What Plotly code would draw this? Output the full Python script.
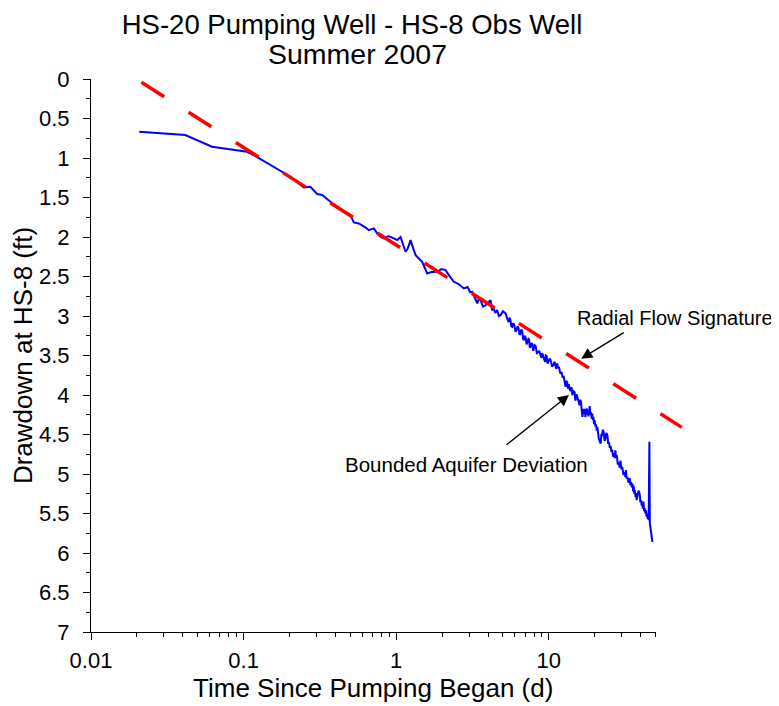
import math
import plotly.graph_objects as go

# observed drawdown at HS-8: (time since pumping began in days, drawdown in ft)
early_readings = [
    (0.0207, 0.667), (0.0415, 0.709), (0.0621, 0.857), (0.1054, 0.921), (0.1195, 0.975),
    (0.166, 1.131), (0.2028, 1.237), (0.2478, 1.372), (0.274, 1.364), (0.3034, 1.456),
    (0.327, 1.469), (0.3707, 1.554), (0.4531, 1.680), (0.501, 1.722), (0.527, 1.815),
    (0.569, 1.828), (0.598, 1.849), (0.638, 1.887), (0.661, 1.913), (0.713, 1.891),
    (0.750, 1.954), (0.788, 1.997), (0.829, 2.017), (0.891, 1.988), (0.964, 2.017),
    (1.016, 2.039), (1.067, 2.001), (1.151, 2.187), (1.186, 2.153), (1.242, 2.039),
    (1.304, 2.166), (1.34, 2.229), (1.479, 2.314), (1.596, 2.461), (1.703, 2.444),
    (1.857, 2.440), (1.982, 2.406), (2.104, 2.419), (2.237, 2.495), (2.387, 2.567),
    (2.563, 2.596), (2.775, 2.651),
]
late_readings = [
    (2.937, 2.634), (3.05, 2.70), (3.15, 2.694), (3.27, 2.78), (3.396, 2.841),
    (3.48, 2.78), (3.573, 2.799), (3.7, 2.88), (3.854, 2.862), (4.0, 2.83),
    (4.152, 2.799), (4.25, 2.93), (4.345, 2.900), (4.46, 2.96), (4.592, 2.925),
    (4.7, 3.00), (4.83, 2.989), (5.0, 2.94), (5.21, 2.967), (5.33, 3.03),
    (5.45, 3.078), (5.53, 3.02), (5.6, 3.05), (5.68, 3.13), (5.76, 3.137),
    (5.85, 3.09), (5.95, 3.12), (6.05, 3.20), (6.15, 3.179), (6.24, 3.13),
    (6.33, 3.15), (6.43, 3.24), (6.53, 3.221), (6.6, 3.17), (6.7, 3.2),
    (6.78, 3.29), (6.87, 3.306), (6.95, 3.25), (7.05, 3.27), (7.15, 3.36),
    (7.26, 3.331), (7.35, 3.29), (7.43, 3.30), (7.5, 3.40), (7.60, 3.390),
    (7.7, 3.34), (7.8, 3.36), (7.9, 3.44), (7.98, 3.411), (8.08, 3.37),
    (8.19, 3.381), (8.35, 3.47), (8.5, 3.46), (8.65, 3.44), (8.83, 3.495),
    (8.95, 3.53), (9.05, 3.47), (9.17, 3.50), (9.29, 3.537), (9.45, 3.58),
    (9.55, 3.50), (9.68, 3.508), (9.8, 3.60), (9.95, 3.58), (10.1, 3.54),
    (10.28, 3.559), (10.5, 3.64), (10.7, 3.62), (10.9, 3.58), (11.09, 3.635),
    (11.2, 3.67), (11.35, 3.60), (11.5, 3.66), (11.65, 3.644), (11.9, 3.73),
    (12.13, 3.711), (12.3, 3.78), (12.5, 3.76), (12.7, 3.84), (12.88, 3.897),
    (13.0, 3.82), (13.2, 3.84), (13.35, 3.92), (13.49, 3.863), (13.7, 3.93),
    (13.9, 3.95), (14.1, 3.90), (14.26, 4.002), (14.5, 3.95), (14.76, 3.964),
    (14.9, 4.07), (15.05, 4.05), (15.2, 3.99), (15.38, 4.024), (15.65, 4.10),
    (15.92, 4.129), (16.1, 4.06), (16.25, 4.09), (16.45, 4.21), (16.6, 4.277),
    (16.9, 4.18), (17.18, 4.192), (17.35, 4.28), (17.5, 4.25), (17.7, 4.17),
    (17.87, 4.213), (18.2, 4.27), (18.53, 4.141), (18.7, 4.25), (18.9, 4.22),
    (19.1, 4.30), (19.28, 4.234), (19.45, 4.32), (19.6, 4.28), (19.8, 4.37),
    (19.95, 4.319), (20.2, 4.40), (20.4, 4.37), (20.6, 4.45), (20.8, 4.404),
    (21.0, 4.50), (21.23, 4.547), (21.5, 4.58), (21.88, 4.614), (22.1, 4.49),
    (22.3, 4.52), (22.6, 4.44), (22.87, 4.471), (23.2, 4.58), (23.5, 4.55),
    (23.8, 4.48), (24.2, 4.509), (24.5, 4.62), (24.8, 4.60), (25.1, 4.67),
    (25.4, 4.648), (25.7, 4.72), (26.0, 4.69), (26.35, 4.78), (26.7, 4.740),
    (27.0, 4.80), (27.3, 4.70), (27.6, 4.80), (27.9, 4.762), (28.3, 4.88),
    (28.7, 4.851), (29.1, 4.92), (29.5, 4.83), (29.9, 4.94), (30.3, 4.910),
    (30.8, 5.01), (31.4, 4.977), (31.7, 5.04), (32.0, 4.95), (32.35, 5.06),
    (32.7, 5.037), (33.3, 5.11), (33.9, 5.053), (34.2, 5.14), (34.6, 5.10),
    (35.0, 5.17), (35.3, 5.120), (35.7, 5.22), (36.0, 5.15), (36.3, 5.25),
    (36.6, 5.205), (36.95, 5.29), (37.3, 5.24), (37.6, 5.33), (38.0, 5.290),
    (38.7, 5.21), (39.4, 5.256), (39.8, 5.36), (40.2, 5.33), (40.6, 5.40),
    (41.0, 5.374), (41.3, 5.44), (41.7, 5.35), (42.1, 5.47), (42.5, 5.433),
    (42.9, 5.50), (43.3, 5.46), (43.7, 5.54), (44.2, 5.500), (44.5, 5.57),
    (44.7, 5.53), (45.1, 5.585), (45.6, 4.593), (45.9, 5.623), (46.2, 5.66),
    (46.5, 5.712), (46.8, 5.76), (47.1, 5.80), (47.4, 5.83), (47.7, 5.860),
]

# straight-line (radial flow) fit, drawn dashed
fit_time = [0.0214, 74.3]
fit_drawdown = [0.04, 4.41]

x_tick_vals = [0.01, 0.1, 1, 10]
x_tick_text = ["0.01", "0.1", "1", "10"]
x_max = 50

FONT = "Liberation Sans, Arial, sans-serif"

# page body adds an 8px offset; layout below is in screen pixels
OFF = 8
W, H = 779, 706
margin = dict(l=91 - OFF, r=W - 710, t=79 - OFF, b=H - (632 - OFF))
plot_w = W - margin["l"] - margin["r"]
plot_h = H - margin["t"] - margin["b"]
x_dom = (655.5 - OFF - margin["l"]) / plot_w
x_lo, x_hi = math.log10(x_tick_vals[0]), math.log10(x_max)
x2_hi = x_lo + (x_hi - x_lo) / x_dom


def px_x(px):
    return (px - OFF - margin["l"]) / plot_w


def px_y(py):
    return 1 - (py - OFF - margin["t"]) / plot_h


minor_vals = [k * 10 ** e for e in range(-2, 2) for k in range(2, 10) if k * 10 ** e <= x_max]

readings = early_readings + late_readings
time_days = [t for t, _ in readings]
drawdown_ft = [d for _, d in readings]

fig = go.Figure()
fig.add_trace(go.Scatter(
    x=time_days, y=drawdown_ft, mode="lines",
    line=dict(color="#0000FF", width=2), xaxis="x", yaxis="y",
))
fig.add_trace(go.Scatter(
    x=fit_time, y=fit_drawdown, mode="lines",
    line=dict(color="#FF0000", width=3.5, dash="27px,29px"),
    xaxis="x2", yaxis="y",
))

axis_common = dict(
    showgrid=False, zeroline=False, showline=True, linecolor="black", linewidth=1,
    ticks="outside", tickcolor="black", ticklen=7, tickwidth=1, automargin=False,
    tickfont=dict(family=FONT, size=22, color="black"),
)

fig.update_layout(
    width=W, height=H, margin=margin,
    paper_bgcolor="white", plot_bgcolor="rgba(0,0,0,0)", showlegend=False,
    font=dict(family=FONT, color="black"),
    title=dict(
        text="HS-20 Pumping Well - HS-8 Obs Well",
        font=dict(family=FONT, size=27.5, color="black"),
        xref="container", yref="container",
        x=(352 - OFF) / W, xanchor="center",
        y=1 - (24 - OFF) / H, yanchor="middle",
    ),
    xaxis=dict(
        type="log", domain=[0, x_dom], range=[x_lo, x_hi], anchor="y",
        tickvals=x_tick_vals, ticktext=x_tick_text, ticklabelstandoff=2,
        minor=dict(tickvals=minor_vals, ticks="outside", ticklen=4, tickcolor="black"),
        title=dict(text="Time Since Pumping Began (d)", font=dict(family=FONT, size=26), standoff=4),
        **axis_common,
    ),
    xaxis2=dict(
        type="log", domain=[0, 1], range=[x_lo, x2_hi], anchor="y", visible=False,
    ),
    yaxis=dict(
        range=[7, 0], dtick=0.5, domain=[0, 1], anchor="x", ticklabelstandoff=9,
        minor=dict(dtick=0.25, ticks="outside", ticklen=4, tickcolor="black"),
        title=dict(text="Drawdown at HS-8 (ft)", font=dict(family=FONT, size=26), standoff=0),
        **axis_common,
    ),
)

fig.add_annotation(text="Summer 2007", showarrow=False,
                   xref="paper", yref="paper", x=px_x(357), y=px_y(54),
                   xanchor="center", yanchor="middle",
                   font=dict(family=FONT, size=28.5, color="black"))

arrow = dict(showarrow=True, arrowhead=2, arrowsize=1.7, arrowwidth=1.3,
             arrowcolor="black", text="", xref="x", yref="y", axref="pixel", ayref="pixel")
fig.add_annotation(x=math.log10(16.3), y=3.54, ax=44, ay=-27, **arrow)
fig.add_annotation(x=math.log10(13.55), y=4.0, ax=-64, ay=51, **arrow)

label = dict(showarrow=False, xref="paper", yref="paper", xanchor="left", yanchor="middle",
             font=dict(family=FONT, size=20, color="black"))
fig.add_annotation(text="Radial Flow Signature", x=px_x(575), y=px_y(318), **label)
fig.add_annotation(text="Bounded Aquifer Deviation", x=px_x(343), y=px_y(464),
                   **{**label, "font": dict(family=FONT, size=20.5, color="black")})

fig.write_html("out.html")
